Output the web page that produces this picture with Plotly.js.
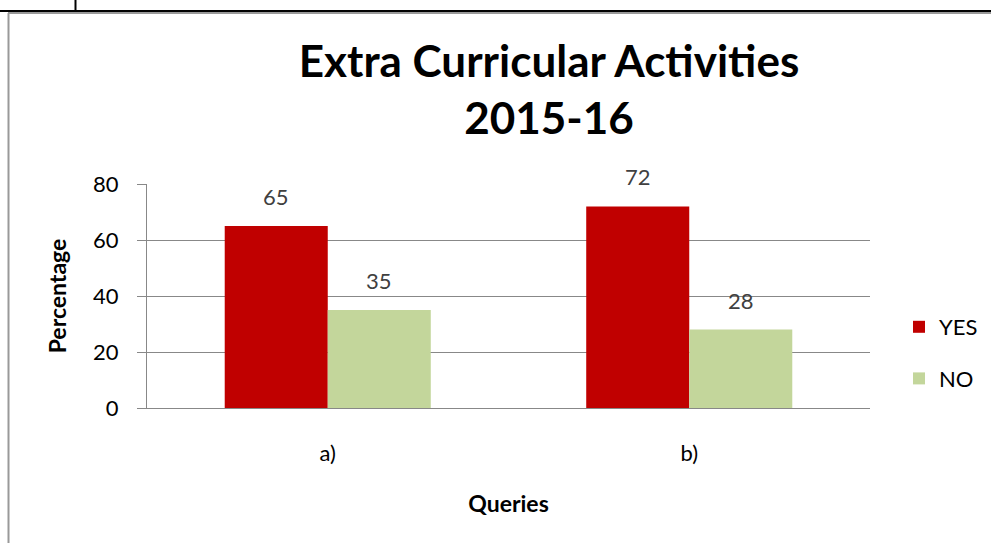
<!DOCTYPE html>
<html>
<head>
<meta charset="utf-8">
<script src="https://cdn.plot.ly/plotly-3.0.1.min.js"></script>
<style>html,body{margin:0;padding:0;background:#fff;}#chart{width:991px;height:543px;}</style>
</head>
<body>
<div id="chart"></div>
<script>
const categories = ["a)", "b)"];
const yesValues = [65, 72];
const noValues = [35, 28];
const seriesNames = ["YES", "NO"];
const yTicks = [0, 20, 40, 60, 80];

const W = 991, H = 543;
const M = {l: 147, r: 121, t: 184, b: 135, autoexpand: false};
const pw = W - M.l - M.r, ph = H - M.t - M.b;
function px(x) { return (x - M.l) / pw; }
function py(y) { return (H - M.b - y) / ph; }

const font = "Lato, 'Open Sans', sans-serif";
const colors = ["#C00000", "#C3D69B"];
const series = [yesValues, noValues];

const traces = series.map((vals, i) => ({
  type: "bar", name: seriesNames[i], x: categories, y: vals,
  marker: {color: colors[i]}, legendgroup: "g" + i, offsetgroup: "g" + i
}));

// data labels via annotations placed on the chart's own axes
const annotations = [];
series.forEach((vals, i) => {
  vals.forEach((v, j) => {
    annotations.push({
      x: categories[j], y: v, xref: "x", yref: "y", text: String(v), showarrow: false,
      xshift: (i === 0 ? -1 : 1) * 51.5, yshift: 14, yanchor: "bottom",
      font: {size: 22, color: "#404040", family: font}
    });
  });
});

const layout = {
  width: W, height: H,
  margin: M,
  paper_bgcolor: "#fff", plot_bgcolor: "#fff",
  font: {family: font, color: "#000"},
  barmode: "group",
  bargap: 0.43, bargroupgap: 0,
  title: {text: "<b>Extra Curricular Activities<br>2015-16</b>", font: {size: 44, color: "#000", family: font},
          x: px(549), xref: "paper", xanchor: "center", y: 1 - 77 / H, yanchor: "middle"},
  xaxis: {showline: true, linecolor: "#888", linewidth: 1, ticks: "", showgrid: false,
          ticklabelstandoff: 26,
          tickfont: {size: 22, color: "#000", family: font},
          title: {text: "<b>Queries</b>", font: {size: 23, color: "#000", family: font}, standoff: 30}},
  yaxis: {range: [0, 80], tickvals: yTicks, showline: true, linecolor: "#888", linewidth: 1,
          ticks: "outside", ticklen: 9, tickcolor: "#888", showgrid: true, gridcolor: "#888", gridwidth: 1,
          ticklabelstandoff: 14,
          zeroline: false, tickfont: {size: 22, color: "#000", family: font},
          title: {text: "<b>Percentage</b>", font: {size: 23, color: "#000", family: font}, standoff: 20}},
  showlegend: true,
  legend: {x: px(899), y: py(353), xanchor: "left", yanchor: "middle", traceorder: "grouped",
           tracegroupgap: 20, font: {size: 22, color: "#000", family: font}, itemwidth: 30},
  annotations: annotations,
  shapes: [
    {type: "line", xref: "paper", yref: "paper", x0: px(0), x1: px(W), y0: py(11), y1: py(11), line: {color: "#000", width: 2}},
    {type: "line", xref: "paper", yref: "paper", x0: px(75.5), x1: px(75.5), y0: py(0), y1: py(11), line: {color: "#000", width: 2}},
    {type: "line", xref: "paper", yref: "paper", x0: px(8), x1: px(W), y0: py(13), y1: py(13), line: {color: "#999", width: 2}},
    {type: "line", xref: "paper", yref: "paper", x0: px(8.5), x1: px(8.5), y0: py(13), y1: py(H), line: {color: "#999", width: 2}}
  ]
};

Plotly.newPlot("chart", traces, layout, {displayModeBar: false});
</script>
</body>
</html>
